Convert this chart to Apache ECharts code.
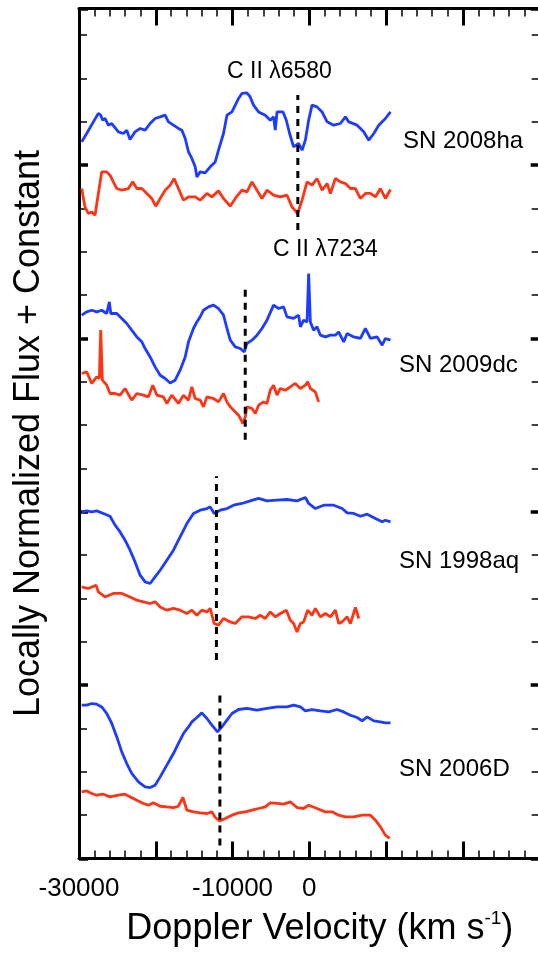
<!DOCTYPE html>
<html>
<head>
<meta charset="utf-8">
<script src="https://cdn.jsdelivr.net/npm/echarts@6/dist/echarts.min.js"></script>
<style>
  html, body { margin: 0; padding: 0; background: #fff; }
  #chart { width: 538px; height: 956px; }
</style>
</head>
<body>
<div id="chart"></div>
<script>
// Velocity (km/s) vs. locally normalized flux + constant, one [v, f] pair per point.
// Blue traces: C II λ6580 region; red traces: C II λ7234 region.
const sn2008ha_6580 = [[-29650,8.268],[-29000,8.365],[-28130,8.499],[-27480,8.596],[-27170,8.576],[-26910,8.518],[-26610,8.538],[-26180,8.461],[-25730,8.480],[-24870,8.384],[-24220,8.365],[-23780,8.403],[-23350,8.296],[-22700,8.384],[-22040,8.423],[-21390,8.403],[-20740,8.480],[-20090,8.538],[-19430,8.557],[-18780,8.576],[-18350,8.499],[-17700,8.461],[-17050,8.423],[-16600,8.403],[-16170,8.307],[-15740,8.153],[-15300,8.077],[-14870,7.980],[-14650,7.864],[-14220,7.922],[-13570,7.911],[-12910,7.980],[-12260,8.037],[-11830,8.172],[-11180,8.365],[-10730,8.576],[-10080,8.614],[-9650,8.692],[-9220,8.769],[-8780,8.827],[-8130,8.834],[-7700,8.787],[-7270,8.692],[-6610,8.614],[-5740,8.576],[-5090,8.518],[-4660,8.557],[-4440,8.403],[-4210,8.614],[-3430,8.614],[-3000,8.518],[-2570,8.365],[-2050,8.211],[-1400,8.250],[-950,8.172],[-520,8.288],[-90,8.518],[350,8.692],[1000,8.672],[1660,8.614],[2310,8.499],[3170,8.461],[4040,8.480],[4700,8.557],[5130,8.499],[6220,8.461],[7080,8.384],[7740,8.288],[8390,8.365],[9040,8.461],[9910,8.538],[10570,8.614]];
const sn2008ha_7234 = [[-29650,7.730],[-29220,7.518],[-28790,7.442],[-28340,7.460],[-27910,7.422],[-27480,7.673],[-27040,7.922],[-26390,7.922],[-25960,7.884],[-25530,7.807],[-25080,7.730],[-24430,7.711],[-23570,7.730],[-23000,7.807],[-22470,7.730],[-21820,7.730],[-21170,7.673],[-20520,7.615],[-20000,7.526],[-19430,7.615],[-18780,7.711],[-18130,7.769],[-17610,7.846],[-17050,7.730],[-16400,7.596],[-15740,7.634],[-14870,7.634],[-14220,7.596],[-13340,7.673],[-12690,7.634],[-11830,7.703],[-11180,7.615],[-10300,7.526],[-9650,7.615],[-8780,7.711],[-8130,7.691],[-7470,7.807],[-6820,7.711],[-6170,7.615],[-5520,7.711],[-4660,7.653],[-3780,7.634],[-2910,7.653],[-2260,7.518],[-1530,7.442],[-950,7.596],[-300,7.807],[350,7.769],[1000,7.846],[1660,7.711],[2310,7.788],[2740,7.673],[3390,7.846],[4040,7.807],[4700,7.788],[5350,7.730],[6000,7.730],[6650,7.615],[7300,7.673],[7960,7.673],[8610,7.634],[9260,7.730],[9910,7.615],[10570,7.719]];
const sn2009dc_6580 = [[-29650,6.269],[-29000,6.307],[-28340,6.326],[-27690,6.307],[-27040,6.326],[-26390,6.288],[-26050,6.422],[-25860,6.288],[-25080,6.288],[-24430,6.231],[-23780,6.173],[-23570,6.191],[-23130,6.096],[-22470,6.018],[-21820,5.961],[-21390,5.884],[-20740,5.787],[-20090,5.672],[-19430,5.576],[-18780,5.538],[-18130,5.487],[-17480,5.519],[-16830,5.634],[-16170,5.787],[-15740,5.961],[-15090,6.115],[-14650,6.191],[-14220,6.249],[-13790,6.326],[-13130,6.364],[-12480,6.384],[-11830,6.346],[-11180,6.269],[-10730,6.115],[-10300,5.980],[-9650,5.903],[-9000,5.884],[-8480,5.845],[-8130,5.942],[-7470,5.980],[-6820,6.038],[-6170,6.115],[-5520,6.211],[-4660,6.384],[-4000,6.346],[-3350,6.364],[-2910,6.249],[-2050,6.231],[-1400,6.269],[-1170,6.134],[-740,6.211],[-300,6.191],[-90,6.750],[130,6.191],[560,6.096],[1000,6.134],[1440,6.038],[2090,6.018],[2740,6.038],[3390,6.038],[3820,6.076],[4470,5.961],[4920,6.057],[5780,6.018],[6650,6.000],[7300,6.115],[7960,6.000],[8830,6.018],[9480,5.922],[9910,6.000],[10570,5.980]];
const sn2009dc_7234 = [[-29650,5.596],[-29000,5.614],[-28340,5.481],[-27690,5.557],[-27350,5.538],[-27170,6.096],[-26960,5.519],[-26390,5.461],[-25960,5.365],[-25300,5.365],[-24650,5.346],[-24000,5.423],[-23130,5.288],[-22470,5.365],[-21610,5.346],[-20960,5.326],[-20390,5.461],[-19860,5.346],[-19000,5.326],[-18560,5.250],[-17910,5.346],[-17050,5.250],[-16400,5.346],[-15740,5.288],[-15300,5.441],[-14870,5.307],[-14220,5.288],[-13790,5.211],[-13340,5.326],[-12480,5.307],[-11830,5.268],[-11180,5.365],[-10730,5.268],[-10300,5.211],[-9870,5.173],[-9220,5.115],[-8650,5.019],[-8350,5.095],[-8130,5.211],[-7470,5.192],[-7040,5.134],[-6610,5.230],[-5960,5.268],[-5520,5.250],[-5090,5.403],[-4660,5.461],[-4210,5.346],[-3780,5.423],[-3130,5.403],[-2480,5.441],[-1830,5.481],[-1170,5.423],[-520,5.461],[-220,5.499],[130,5.423],[780,5.384],[1210,5.268]];
const sn1998aq_6580 = [[-29650,3.999],[-29000,4.011],[-28340,3.999],[-27690,4.011],[-26830,3.981],[-25960,3.949],[-25300,3.846],[-24650,3.768],[-24000,3.673],[-23350,3.557],[-22700,3.422],[-22040,3.269],[-21390,3.191],[-20740,3.173],[-20090,3.249],[-19430,3.326],[-18560,3.442],[-17700,3.557],[-16830,3.711],[-15950,3.865],[-15090,3.981],[-14220,4.019],[-13340,4.038],[-12910,4.057],[-12390,3.981],[-11610,4.019],[-10730,4.038],[-9870,4.076],[-8780,4.096],[-7700,4.126],[-6610,4.154],[-5520,4.126],[-4210,4.134],[-2910,4.142],[-1600,4.126],[-520,4.165],[-90,4.096],[780,4.038],[1870,4.076],[3170,4.076],[4270,4.038],[4920,3.988],[5780,3.981],[6650,3.949],[7530,3.973],[8610,3.923],[9480,3.884],[9910,3.903],[10570,3.884]];
const sn1998aq_7234 = [[-29650,3.134],[-28790,3.115],[-27780,3.153],[-27480,3.076],[-26610,3.018],[-25530,3.058],[-24430,3.058],[-23350,3.018],[-22470,2.980],[-21610,2.961],[-20740,2.942],[-20090,2.961],[-19430,2.903],[-18560,2.865],[-17700,2.885],[-16830,2.865],[-15950,2.827],[-15300,2.865],[-14650,2.807],[-14000,2.865],[-13340,2.845],[-12910,2.885],[-12390,2.711],[-11830,2.692],[-11180,2.769],[-10300,2.730],[-9650,2.711],[-8780,2.788],[-7920,2.788],[-7040,2.769],[-6390,2.807],[-5740,2.769],[-5090,2.845],[-4440,2.788],[-3780,2.827],[-3000,2.865],[-2480,2.749],[-2050,2.711],[-1600,2.614],[-1170,2.711],[-740,2.730],[-220,2.865],[350,2.807],[780,2.885],[1440,2.788],[2090,2.827],[2740,2.788],[3390,2.865],[3820,2.711],[4270,2.730],[4920,2.788],[5350,2.711],[6000,2.896],[6430,2.769]];
const sn2006D_6580 = [[-29650,1.769],[-29000,1.769],[-28340,1.788],[-27690,1.780],[-27040,1.749],[-26390,1.673],[-25730,1.558],[-25080,1.403],[-24430,1.230],[-23780,1.096],[-23130,0.981],[-22260,0.884],[-21390,0.826],[-20740,0.819],[-20090,0.846],[-19430,0.942],[-18560,1.077],[-17700,1.211],[-17050,1.327],[-16400,1.442],[-15740,1.518],[-15300,1.576],[-14650,1.627],[-14000,1.680],[-13340,1.615],[-12690,1.538],[-11960,1.461],[-11390,1.518],[-10730,1.596],[-10080,1.673],[-9220,1.719],[-8130,1.731],[-6820,1.711],[-5520,1.731],[-4210,1.749],[-2910,1.749],[-2050,1.769],[-1170,1.749],[-520,1.703],[350,1.719],[1440,1.703],[2520,1.691],[3610,1.719],[4470,1.691],[5350,1.653],[6220,1.627],[6870,1.588],[7530,1.634],[8390,1.588],[9260,1.576],[9910,1.565],[10570,1.565]];
const sn2006D_7234 = [[-29650,0.768],[-29000,0.780],[-28340,0.750],[-27690,0.730],[-26830,0.742],[-25960,0.711],[-24870,0.730],[-24000,0.742],[-23350,0.711],[-22470,0.673],[-21610,0.635],[-20960,0.615],[-20310,0.642],[-19430,0.603],[-18560,0.595],[-17700,0.588],[-17050,0.603],[-16470,0.704],[-15950,0.557],[-15090,0.538],[-14220,0.526],[-13340,0.519],[-12690,0.538],[-12260,0.473],[-11700,0.434],[-10960,0.462],[-10080,0.500],[-9220,0.526],[-8350,0.538],[-7470,0.557],[-6610,0.577],[-5740,0.595],[-5090,0.642],[-4210,0.635],[-3350,0.627],[-2480,0.653],[-1600,0.588],[-740,0.577],[-90,0.615],[1000,0.577],[2090,0.538],[2960,0.538],[3820,0.500],[4700,0.480],[5780,0.480],[6870,0.500],[7960,0.500],[8610,0.442],[9260,0.365],[9910,0.269],[10470,0.231]];

// C II absorption minima: velocity and the flux span of each dotted guide.
const markerVelocity = [-1500, -8350, -12100, -11650];
const markerSpan = [[7.25, 8.81], [4.83, 6.58], [2.29, 4.41], [0.15, 1.91]];

const supernovaNames = ['SN 2008ha', 'SN 2009dc', 'SN 1998aq', 'SN 2006D'];
const lineLabels = ['C II \u03bb6580', 'C II \u03bb7234'];

// X axis: only these tick values carry a label.
const xLabelValues = [-30000, -10000, 0];
const X_MIN = -30000, X_MAX = 30000, X_STEP = 10000;
const Y_MAX = 9.807;

const BLUE = '#1e3cff';
const RED = '#ff3414';
const FONT = '"Liberation Sans", Arial, Helvetica, sans-serif';

// Join several traces into one polyline, with an empty point between traces so they stay separate.
const GAP = ['-', '-'];
function joinTraces(list) {
  const out = [];
  list.forEach((trace, i) => {
    if (i > 0) out.push(GAP);
    trace.forEach(p => out.push(p));
  });
  return out;
}

const blueData = joinTraces([sn2008ha_6580, sn2009dc_6580, sn1998aq_6580, sn2006D_6580]);
const redData = joinTraces([sn2008ha_7234, sn2009dc_7234, sn1998aq_7234, sn2006D_7234]);
const markerData = joinTraces(markerVelocity.map((v, i) => [[v, markerSpan[i][0]], [v, markerSpan[i][1]]]));

const series = [
  { type: 'line', data: blueData, xAxisIndex: 0, yAxisIndex: 0, symbol: 'none', connectNulls: false,
    lineStyle: { color: BLUE, width: 2.8 } },
  { type: 'line', data: redData, xAxisIndex: 0, yAxisIndex: 0, symbol: 'none', connectNulls: false,
    lineStyle: { color: RED, width: 2.8 } },
  { type: 'line', data: markerData, xAxisIndex: 0, yAxisIndex: 0, symbol: 'none', connectNulls: false, z: 5,
    lineStyle: { color: '#000', width: 3, type: [7, 6] } }
];

function xAxisDef(position, withLabels) {
  return {
    type: 'value', position, min: X_MIN, max: X_MAX, interval: X_STEP,
    axisLine: { show: true, onZero: false, lineStyle: { color: '#000', width: 3 } },
    axisTick: { show: true, inside: true, length: 17, lineStyle: { color: '#000', width: 3 } },
    minorTick: { show: true, splitNumber: 5, length: 8, lineStyle: { color: '#000', width: 1.5 } },
    splitLine: { show: false },
    axisLabel: {
      show: withLabels, margin: 17, color: '#000', fontSize: 26, fontFamily: FONT,
      formatter: v => (xLabelValues.indexOf(v) >= 0 ? String(v) : '')
    },
    name: withLabels ? '{t|Doppler Velocity (km s}{s|-1}{t|)}' : '',
    nameLocation: 'middle', nameGap: 51, nameMoveOverlap: false,
    nameTextStyle: {
      padding: [0, 0, 0, 21],
      rich: {
        t: { fontSize: 36, fontFamily: FONT, color: '#000', lineHeight: 40 },
        s: { fontSize: 19, fontFamily: FONT, color: '#000', lineHeight: 40, verticalAlign: 'top' }
      }
    }
  };
}

function yAxisDef(position, step, tickWidth, tickLen, withLine, title) {
  return {
    type: 'value', position, min: 0, max: Y_MAX, interval: step,
    axisLine: { show: withLine, onZero: false, lineStyle: { color: '#000', width: 3 } },
    axisTick: { show: true, inside: true, length: tickLen, lineStyle: { color: '#000', width: tickWidth } },
    axisLabel: { show: false },
    splitLine: { show: false },
    name: title || '', nameLocation: 'middle', nameGap: 32, nameMoveOverlap: false,
    nameTextStyle: { fontSize: 36, fontFamily: FONT, color: '#000' }
  };
}

// Free-standing labels: line identifications and supernova names.
function textBlock(text, left, top, size) {
  return {
    text, left, top, padding: 0, itemGap: 0,
    textAlign: 'left', textVerticalAlign: 'top',
    textStyle: { fontSize: size, fontWeight: 'normal', fontFamily: FONT, color: '#000' }
  };
}

const chart = echarts.init(document.getElementById('chart'), null, { renderer: 'canvas' });
chart.setOption({
  animation: false,
  grid: { left: 79, top: 8.5, width: 460.7, height: 850, containLabel: false, outerBoundsMode: 'none' },
  title: [
    textBlock(lineLabels[0], 227, 60, 23),
    textBlock(lineLabels[1], 273, 238, 23),
    textBlock(supernovaNames[0], 403, 129, 24),
    textBlock(supernovaNames[1], 399, 353, 24),
    textBlock(supernovaNames[2], 399, 549, 24),
    textBlock(supernovaNames[3], 399, 757, 24)
  ],
  xAxis: [xAxisDef('bottom', true), xAxisDef('top', false)],
  yAxis: [
    yAxisDef('left', 0.5, 1.5, 8, true, 'Locally Normalized Flux + Constant'),
    yAxisDef('left', 2, 3.5, 9, false),
    yAxisDef('right', 0.5, 1.5, 8, true),
    yAxisDef('right', 2, 3.5, 9, false)
  ],
  series
});
</script>
</body>
</html>
